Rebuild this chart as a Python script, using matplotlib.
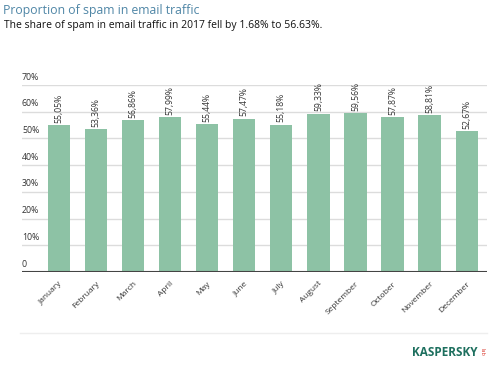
import numpy as np
import matplotlib
matplotlib.use("Agg")
import matplotlib.pyplot as plt
import matplotlib.transforms as mtrans

months = ["January", "February", "March", "April", "May", "June",
          "July", "August", "September", "October", "November", "December"]
spam_share = [55.05, 53.36, 56.86, 57.99, 55.44, 57.47,
              55.18, 59.33, 59.56, 57.87, 58.81, 52.67]
y_ticks = [0, 10, 20, 30, 40, 50, 60, 70]

title = "Proportion of spam in email traffic"
subtitle = "The share of spam in email traffic in 2017 fell by 1.68% to 56.63%."

plt.rcParams['font.family'] = ['Open Sans', 'DejaVu Sans']

fig = plt.figure(figsize=(5, 3.81), dpi=100, facecolor='white')
ax = fig.add_axes([0.044, 0.286, 0.93, 0.4908])

x = np.arange(len(months))
ax.bar(x, spam_share, width=0.6, color='#8dc2a5', zorder=2)

ax.set_xlim(-1.0, 11.55)
ax.set_ylim(0, 70)

# gridlines + labels sitting above them
trans = mtrans.blended_transform_factory(ax.transAxes, ax.transData)
for t in y_ticks:
    if t > 0:
        ax.axhline(t, color='#dcdcdc', linewidth=1, zorder=1)
    lbl = "0" if t == 0 else "%d%%" % t
    ax.text(0.0, t + 1.3, lbl, transform=trans, fontsize=6.3, color='#333333',
            ha='left', va='bottom')
ax.axhline(0, color='#444444', linewidth=1.5, zorder=3)

for xi, v in zip(x, spam_share):
    ax.text(xi, v + 0.8, ("%.2f%%" % v).replace(".", ","), rotation=90,
            ha='center', va='bottom', fontsize=6.2, color='#333333')

ax.set_xticks(x)
ax.set_xticklabels(months, rotation=45, ha='right', rotation_mode='anchor',
                   fontsize=6, color='#333333')
ax.tick_params(axis='x', length=0, pad=6)
ax.set_yticks([])
for s in ax.spines.values():
    s.set_visible(False)

fig.text(0.006, 0.99, title, fontsize=8.8, color='#4f86a6', ha='left', va='top')
fig.text(0.008, 0.948, subtitle, fontsize=7.5, color='#111111', ha='left', va='top')

# footer separator and logo
fig.add_artist(plt.Line2D([0.04, 0.974], [0.126, 0.126], color='#eeeeee', linewidth=1))
fig.text(0.955, 0.076, "KASPERSKY", fontsize=8.5, fontweight='bold',
         color='#1d6f5e', ha='right', va='center')
fig.text(0.964, 0.076, "lab", fontsize=4, color='#d9392e', rotation=270,
         ha='center', va='center')

fig.savefig("out.png", dpi=100, facecolor='white')
